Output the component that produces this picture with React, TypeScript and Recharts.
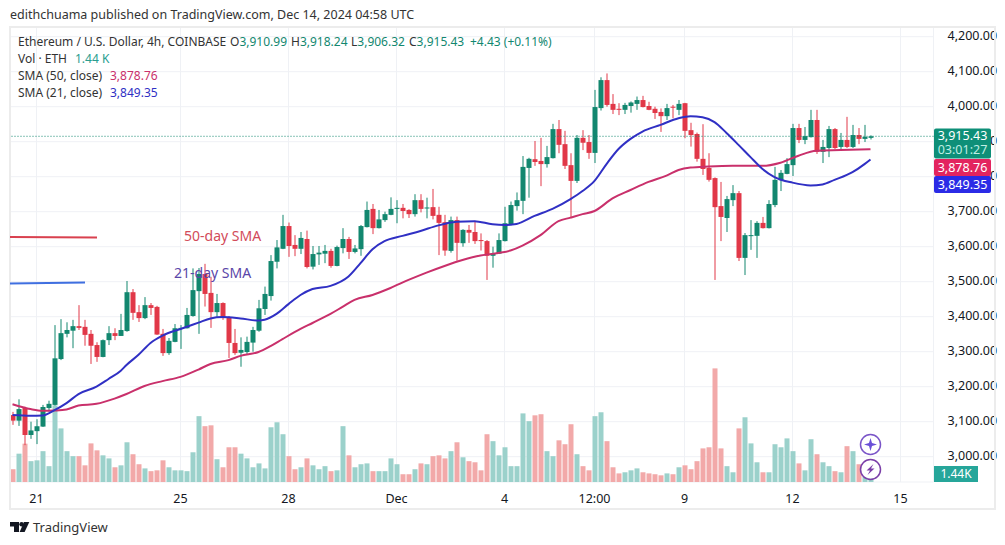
import React from 'react';
import { ComposedChart, Bar, Line, XAxis, YAxis, CartesianGrid, ReferenceLine } from 'recharts';

// 4h candles
const opens = [
    3119, 3103, 3140, 3062, 3073, 3086, 3139, 3148, 3279, 3351, 3360, 3373, 3371, 3351, 3319, 3285, 3333, 3353, 3345, 3359,
    3470, 3413, 3396, 3433, 3428, 3351, 3296, 3328, 3365, 3367, 3402, 3473, 3522, 3468, 3413, 3439, 3399, 3325, 3297, 3299,
    3326, 3360, 3422, 3459, 3557, 3594, 3659, 3605, 3594, 3622, 3543, 3578, 3580, 3588, 3545, 3596, 3622, 3585, 3593, 3656,
    3708, 3653, 3676, 3691, 3708, 3711, 3705, 3693, 3733, 3710, 3713, 3691, 3670, 3588, 3676, 3610, 3648, 3642, 3619, 3616,
    3574, 3580, 3616, 3662, 3716, 3731, 3825, 3850, 3845, 3836, 3853, 3936, 3893, 3833, 3788, 3911, 3899, 3868, 3996, 4076,
    4008, 3994, 3991, 4002, 4008, 4019, 4002, 3994, 3985, 3973, 4000, 3991, 4010, 3933, 3922, 3851, 3825, 3796, 3716, 3682,
    3733, 3753, 3568, 3631, 3631, 3668, 3653, 3719, 3790, 3808, 3833, 3939, 3905, 3913, 3962, 3871, 3882, 3936, 3885, 3905,
    3885, 3919, 3908, 3910.99,
];
const highs = [
    3128, 3164, 3143, 3100, 3107, 3148, 3160, 3376, 3393, 3384, 3391, 3433, 3391, 3362, 3327, 3335, 3373, 3367, 3408, 3502,
    3479, 3433, 3456, 3439, 3431, 3365, 3339, 3379, 3376, 3425, 3538, 3539, 3551, 3514, 3465, 3441, 3402, 3365, 3341, 3343,
    3371, 3448, 3486, 3576, 3619, 3691, 3669, 3633, 3642, 3646, 3602, 3602, 3605, 3594, 3603, 3653, 3628, 3605, 3662, 3729,
    3722, 3705, 3700, 3741, 3733, 3722, 3707, 3750, 3750, 3740, 3765, 3714, 3691, 3686, 3686, 3650, 3662, 3674, 3638, 3619,
    3600, 3638, 3714, 3729, 3755, 3859, 3854, 3902, 3911, 3888, 3951, 3962, 3931, 3867, 3919, 3933, 3919, 4048, 4084, 4095,
    4036, 4010, 4011, 4015, 4029, 4031, 4014, 4000, 3995, 4008, 4005, 4019, 4011, 3954, 3926, 3950, 3867, 3798, 3785, 3745,
    3776, 3759, 3639, 3676, 3673, 3685, 3733, 3828, 3819, 3853, 3951, 3951, 3942, 3991, 3991, 3905, 3945, 3939, 3925, 3971,
    3948, 3939, 3948, 3918.24,
];
const lows = [
    3091, 3088, 3033, 3051, 3036, 3085, 3129, 3146, 3276, 3341, 3310, 3362, 3317, 3265, 3271, 3284, 3319, 3333, 3345, 3357,
    3391, 3385, 3393, 3405, 3348, 3288, 3291, 3327, 3308, 3366, 3400, 3351, 3429, 3368, 3400, 3391, 3282, 3291, 3257, 3293,
    3300, 3357, 3405, 3446, 3538, 3593, 3571, 3573, 3579, 3538, 3535, 3548, 3553, 3540, 3544, 3581, 3565, 3581, 3574, 3655,
    3636, 3652, 3671, 3690, 3667, 3681, 3682, 3686, 3698, 3681, 3678, 3576, 3574, 3583, 3560, 3600, 3611, 3608, 3589, 3505,
    3540, 3579, 3615, 3661, 3703, 3693, 3740, 3831, 3773, 3826, 3852, 3867, 3822, 3681, 3782, 3876, 3851, 3839, 3989, 4000,
    3979, 3976, 3979, 3983, 3991, 3998, 3990, 3965, 3928, 3962, 3967, 3976, 3910, 3886, 3843, 3805, 3786, 3505, 3616, 3642,
    3716, 3559, 3519, 3591, 3568, 3652, 3652, 3713, 3759, 3807, 3802, 3896, 3893, 3912, 3865, 3839, 3856, 3879, 3879, 3882,
    3882, 3893, 3899, 3906.32,
];
const closes = [
    3103, 3136, 3062, 3075, 3087, 3142, 3151, 3281, 3353, 3362, 3373, 3368, 3348, 3317, 3285, 3333, 3353, 3345, 3362, 3470,
    3411, 3396, 3433, 3425, 3349, 3296, 3331, 3367, 3368, 3405, 3476, 3522, 3465, 3413, 3439, 3396, 3325, 3296, 3305, 3328,
    3362, 3424, 3465, 3559, 3598, 3659, 3602, 3594, 3625, 3542, 3579, 3583, 3588, 3545, 3599, 3622, 3585, 3595, 3659, 3705,
    3653, 3678, 3693, 3708, 3711, 3702, 3693, 3733, 3708, 3712, 3688, 3668, 3589, 3676, 3611, 3648, 3640, 3616, 3616, 3574,
    3581, 3619, 3667, 3719, 3733, 3828, 3851, 3842, 3836, 3856, 3936, 3891, 3831, 3788, 3911, 3897, 3868, 3999, 4076, 4005,
    3991, 3991, 4005, 4012, 4019, 3999, 3991, 3982, 3973, 3996, 3997, 4008, 3931, 3919, 3851, 3822, 3791, 3713, 3685, 3736,
    3753, 3568, 3633, 3633, 3668, 3653, 3722, 3791, 3811, 3836, 3939, 3905, 3916, 3962, 3871, 3885, 3936, 3882, 3905, 3885,
    3919, 3908, 3914, 3915.43,
];
// volume in thousands of ETH
const volumes = [
    4.6, 10.2, 13.8, 7.5, 7.8, 11.1, 5.7, 27.6, 19.3, 11.1, 9.3, 9.3, 6.0, 13.9, 11.4, 9.6, 8.5, 5.3, 6.0, 14.3,
    10.0, 6.4, 4.9, 3.9, 4.2, 7.8, 5.3, 4.2, 4.2, 3.9, 10.7, 23.7, 20.1, 20.4, 8.2, 5.3, 12.5, 12.5, 10.2, 8.5,
    5.3, 6.7, 4.9, 19.7, 21.5, 17.2, 9.3, 4.6, 5.3, 8.5, 6.0, 4.6, 5.7, 3.9, 4.2, 20.1, 9.6, 5.3, 6.4, 6.7,
    3.9, 3.9, 3.9, 8.5, 6.4, 2.8, 2.8, 4.6, 6.7, 6.4, 9.3, 9.6, 8.5, 11.1, 14.3, 8.9, 7.5, 7.1, 4.2, 17.2,
    14.7, 9.6, 12.5, 5.7, 5.7, 24.7, 21.9, 24.0, 24.4, 11.1, 9.3, 15.0, 13.6, 20.8, 10.0, 5.7, 4.2, 23.7, 25.1, 14.7,
    5.3, 3.1, 3.5, 4.2, 4.9, 3.5, 3.1, 2.8, 2.4, 3.1, 2.8, 5.3, 6.0, 4.6, 7.5, 12.1, 12.5, 40.9, 12.1, 5.7,
    3.5, 19.3, 23.3, 13.9, 7.1, 3.5, 3.5, 13.6, 12.5, 15.7, 11.1, 6.7, 4.2, 15.4, 10.0, 7.1, 5.7, 3.9, 3.5, 12.9,
    11.1, 6.4, 1.8, 1.44,
];

// moving averages, read at the bars listed in the matching index arrays
const sma21Bars = [
    0, 3, 5, 7, 9, 11, 14, 16, 18, 19, 21, 23, 25, 28, 31, 33, 35, 38, 41, 42, 44, 46, 48, 50, 53, 56, 58, 60, 62, 65,
    68, 71, 74, 77, 80, 82, 84, 87, 90, 93, 95, 97, 99, 101, 103, 105, 108, 111, 113, 115, 117, 119, 121, 123, 125, 127,
    130, 133, 135, 137, 140, 142, 143,
];
const sma21Values = [
    3119, 3117, 3118, 3133, 3153, 3179, 3200, 3222, 3245, 3262, 3291, 3325, 3346, 3365, 3383, 3395, 3399, 3395, 3389, 3391,
    3408, 3436, 3462, 3479, 3488, 3515, 3553, 3593, 3616, 3631, 3645, 3661, 3671, 3673, 3664, 3662, 3665, 3688, 3708, 3736,
    3759, 3788, 3836, 3879, 3908, 3929, 3948, 3967, 3973, 3970, 3956, 3925, 3891, 3856, 3822, 3799, 3783, 3775, 3778, 3791,
    3813, 3836, 3849.35,
];
const sma50Bars = [
    0, 3, 5, 7, 9, 11, 14, 17, 19, 22, 25, 28, 31, 33, 36, 38, 41, 43, 45, 48, 50, 53, 55, 57, 60, 63, 66, 69, 72, 75,
    78, 81, 83, 85, 88, 91, 93, 95, 97, 100, 103, 106, 109, 111, 113, 116, 120, 125, 128, 131, 134, 138, 143,
];
const sma50Values = [
    3150, 3136, 3131, 3132, 3135, 3146, 3151, 3166, 3179, 3202, 3216, 3228, 3249, 3265, 3276, 3288, 3299, 3316, 3336, 3365,
    3382, 3408, 3428, 3448, 3462, 3482, 3505, 3526, 3545, 3562, 3575, 3582, 3589, 3603, 3633, 3673, 3683, 3693, 3702, 3738,
    3762, 3785, 3803, 3819, 3826, 3829, 3831, 3831, 3840, 3860, 3874, 3876, 3878.76,
];

const priceTicks = [3000, 3100, 3200, 3300, 3400, 3500, 3600, 3700, 3800, 3900, 4000, 4100, 4200];
const timeTickBars = [4, 28, 46, 64, 82, 97, 112, 130, 148];
const timeTickLabels = ['21', '25', '28', 'Dec', '4', '12:00', '9', '12', '15'];
const lastPrice = 3915.43;
const totalBars = 154; // 144 candles plus the empty space on the right

const UP = '#12876f';
const DOWN = '#e13848';
const UP_VOL = '#9bd1cb';
const DOWN_VOL = '#f2a9a9';
const SMA21_COLOR = '#3030c4';
const SMA50_COLOR = '#c9306b';
const FONT = '"Noto Sans", sans-serif';

const rows = Array.from({ length: totalBars }, (_, i) => {
    const has = i < opens.length;
    const s21 = sma21Bars.indexOf(i);
    const s50 = sma50Bars.indexOf(i);
    return {
        idx: i,
        open: has ? opens[i] : null,
        high: has ? highs[i] : null,
        low: has ? lows[i] : null,
        close: has ? closes[i] : null,
        range: has ? [lows[i], highs[i]] : null,
        volume: has ? volumes[i] : null,
        sma21: s21 >= 0 ? sma21Values[s21] : null,
        sma50: s50 >= 0 ? sma50Values[s50] : null,
    };
});

const CandleShape = (props: any) => {
    const { x, y, width, height, payload } = props;
    if (payload == null || payload.high == null) return null;
    const { open, high, low, close } = payload;
    const k = height / (high - low);
    const color = close >= open ? UP : DOWN;
    const top = y + (high - Math.max(open, close)) * k;
    const bodyHeight = Math.max(Math.abs(open - close) * k, 1);
    const mid = x + width / 2;
    return (
        <g>
            <line x1={mid} x2={mid} y1={y} y2={y + height} stroke={color} strokeWidth={1} />
            <rect x={x} y={top} width={width} height={bodyHeight} fill={color} />
        </g>
    );
};

const VolumeShape = (props: any) => {
    const { x, y, width, height, payload } = props;
    if (payload == null || payload.volume == null) return null;
    const color = payload.close >= payload.open ? UP_VOL : DOWN_VOL;
    return <rect x={x} y={y} width={width} height={height} fill={color} />;
};

const Badge = ({ y, h, fill, lines }: { y: number; h: number; fill: string; lines: { text: string; fill: string; y: number }[] }) => (
    <g>
        <rect x={934} y={y} width={57} height={h} rx={2} fill={fill} />
        {lines.map((l) => (
            <text key={l.text} x={962.5} y={l.y} textAnchor="middle" fontSize={12.5} fill={l.fill}>{l.text}</text>
        ))}
    </g>
);

// header, annotations, price badges and logo
const Overlay = () => (
    <svg width={1005} height={545} style={{ position: 'absolute', left: 0, top: 0, pointerEvents: 'none', fontFamily: FONT }}>
        <rect x={10} y={27} width={985} height={482} fill="none" stroke="#ececec" strokeWidth={2} />
        <text x={10} y={19} fontSize={12.5} fill="#333">edithchuama published on TradingView.com, Dec 14, 2024 04:58 UTC</text>

        <text x={18} y={46} fontSize={12} fill="#333">Ethereum / U.S. Dollar, 4h, COINBASE</text>
        <text x={230} y={46} fontSize={12} fill="#333">O<tspan fill={UP}>3,910.99</tspan></text>
        <text x={291} y={46} fontSize={12} fill="#333">H<tspan fill={UP}>3,918.24</tspan></text>
        <text x={351} y={46} fontSize={12} fill="#333">L<tspan fill={UP}>3,906.32</tspan></text>
        <text x={409} y={46} fontSize={12} fill="#333">C<tspan fill={UP}>3,915.43</tspan></text>
        <text x={470} y={46} fontSize={12} fill={UP}>+4.43 (+0.11%)</text>
        <text x={18} y={63} fontSize={12} fill="#333">Vol · ETH</text>
        <text x={75} y={63} fontSize={12} fill="#2a9d8f">1.44 K</text>
        <text x={18} y={80} fontSize={12} fill="#333">SMA (50, close)</text>
        <text x={110} y={80} fontSize={12} fill={SMA50_COLOR}>3,878.76</text>
        <text x={18} y={97} fontSize={12} fill="#333">SMA (21, close)</text>
        <text x={110} y={97} fontSize={12} fill={SMA21_COLOR}>3,849.35</text>

        <line x1={10} x2={97} y1={237} y2={237.5} stroke="#d9414f" strokeWidth={2} />
        <line x1={10} x2={85} y1={283.5} y2={282.5} stroke="#3f6fe0" strokeWidth={2} />
        <text x={184} y={241} fontSize={14} fill="#d24b5a">50-day SMA</text>
        <text x={174} y={278} fontSize={14} fill="#5b46a8">21-day SMA</text>

        <Badge y={128.5} h={30} fill="#0e8f78" lines={[
            { text: '3,915.43', fill: '#fff', y: 140 },
            { text: '03:01:27', fill: '#bfeee4', y: 154 },
        ]} />
        <Badge y={159} h={17} fill="#e3245f" lines={[{ text: '3,878.76', fill: '#fff', y: 172 }]} />
        <Badge y={176} h={17} fill="#2b2be6" lines={[{ text: '3,849.35', fill: '#fff', y: 189 }]} />
        <rect x={934} y={466} width={44} height={16} fill="#26a69a" />
        <text x={956} y={478} textAnchor="middle" fontSize={12} fill="#fff">1.44K</text>

        <circle cx={870.5} cy={444.5} r={10} fill="#fff" fillOpacity={0.6} stroke="#7a55c8" strokeWidth={1.5} />
        <path d="M870.5 438 L872 443 L877 444.5 L872 446 L870.5 451 L869 446 L864 444.5 L869 443 Z" fill="#6a4fd8" />
        <circle cx={870.5} cy={469.5} r={10} fill="#fff" fillOpacity={0.6} stroke="#7b3fa8" strokeWidth={1.5} />
        <path d="M873.5 464 L866.5 470.5 L870 470.5 L867.5 475 L874.5 468.5 L871 468.5 Z" fill="#7b3fa8" />

        <path d="M10 522 H19 V532 H14 V526.5 H10 Z" fill="#131722" />
        <circle cx={21.6} cy={524.3} r={2.3} fill="#131722" />
        <path d="M24 522 H29.3 L24.6 532 H19.6 Z" fill="#131722" />
        <text x={33} y={532} fontSize={13} fill="#333">TradingView</text>
    </svg>
);

const App: React.FC = () => {
    return (
        <div style={{ position: 'absolute', left: 0, top: 0, width: 1005, height: 545, background: '#fff' }}>
            <ComposedChart
                width={1005}
                height={545}
                data={rows}
                margin={{ top: 27, right: 5.5, left: 9.5, bottom: 33 }}
                barGap={0}
                barCategoryGap={0}
            >
                <CartesianGrid stroke="#eff1f5" xAxisId="candles" yAxisId="price" />
                <XAxis
                    xAxisId="candles"
                    dataKey="idx"
                    type="category"
                    ticks={timeTickBars}
                    interval={0}
                    tickFormatter={(v: number) => timeTickLabels[timeTickBars.indexOf(v)]}
                    tick={{ fill: '#131722', fontSize: 12.5, fontFamily: FONT }}
                    tickLine={false}
                    axisLine={false}
                    tickMargin={6}
                    height={30}
                />
                <XAxis xAxisId="vol" dataKey="idx" type="category" hide />
                <YAxis
                    yAxisId="price"
                    orientation="right"
                    domain={[2927.7, 4227.7]}
                    ticks={priceTicks}
                    interval={0}
                    allowDataOverflow
                    tickFormatter={(v: number) => v.toLocaleString('en-US', { minimumFractionDigits: 2 })}
                    tick={{ fill: '#131722', fontSize: 12.5, fontFamily: FONT, dy: -1.5 }}
                    tickLine={false}
                    axisLine={false}
                    tickMargin={8}
                    width={66}
                />
                <YAxis yAxisId="vol" domain={[0, 163.8]} allowDataOverflow hide />
                <ReferenceLine xAxisId="candles" yAxisId="price" y={lastPrice} stroke={UP} strokeDasharray="1 2" />
                <Bar xAxisId="vol" yAxisId="vol" dataKey="volume" barSize={5} shape={<VolumeShape />} isAnimationActive={false} />
                <Bar xAxisId="candles" yAxisId="price" dataKey="range" barSize={5} shape={<CandleShape />} isAnimationActive={false} />
                <Line xAxisId="candles" yAxisId="price" dataKey="sma50" type="monotone" stroke={SMA50_COLOR} strokeWidth={2} dot={false} connectNulls isAnimationActive={false} />
                <Line xAxisId="candles" yAxisId="price" dataKey="sma21" type="monotone" stroke={SMA21_COLOR} strokeWidth={2} dot={false} connectNulls isAnimationActive={false} />
            </ComposedChart>
            <Overlay />
        </div>
    );
};

export default App;
